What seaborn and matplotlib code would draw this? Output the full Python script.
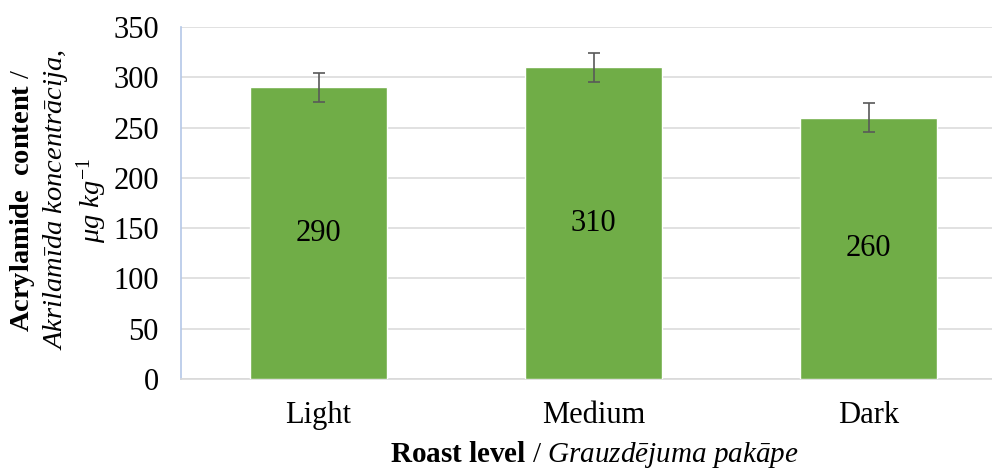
import matplotlib
matplotlib.use("Agg")
import matplotlib.pyplot as plt
import seaborn as sns
import pandas as pd

# Data
roast_levels = ["Light", "Medium", "Dark"]
acrylamide = [290, 310, 260]
acrylamide_err = [14.5, 14.5, 14.5]

df = pd.DataFrame({"roast": roast_levels, "acrylamide": acrylamide})

sns.set_theme(style="white", rc={"text.color": "black", "axes.labelcolor": "black",
                                 "xtick.color": "black", "ytick.color": "black"})
plt.rcParams["font.family"] = ["Liberation Serif", "DejaVu Serif"]
plt.rcParams["mathtext.fontset"] = "custom"
plt.rcParams["mathtext.rm"] = "Liberation Serif"
plt.rcParams["mathtext.it"] = "Liberation Serif:italic"
plt.rcParams["mathtext.bf"] = "Liberation Serif:bold"

FS = 22

fig = plt.figure(figsize=(9.92, 4.69), dpi=100)
# axes extends past the right edge like the cropped original
ax = fig.add_axes([181 / 992, 1 - 379 / 469, 825 / 992, 352 / 469])

sns.barplot(data=df, x="roast", y="acrylamide", color="#70ad47",
            width=0.5, saturation=1, ax=ax, zorder=3)
ax.errorbar(range(len(roast_levels)), acrylamide, yerr=acrylamide_err,
            fmt="none", ecolor="#595959", elinewidth=1.2, capsize=4.5,
            capthick=1.2, zorder=4)

ax.bar_label(ax.containers[0], labels=[str(v) for v in acrylamide],
             label_type="center", fontsize=FS, color="black")

ax.set_ylim(0, 350)
ax.set_yticks(range(0, 351, 50))
ax.set_xlim(-0.5, 2.5)
ax.yaxis.grid(True, color="#d9d9d9", linewidth=1.1, zorder=0)
ax.tick_params(axis="both", length=0, labelsize=FS, pad=16)

for side in ["top", "right"]:
    ax.spines[side].set_visible(False)
ax.spines["left"].set_color("#b4c7e7")
ax.spines["left"].set_linewidth(1.2)
ax.spines["bottom"].set_color("#d9d9d9")
ax.spines["bottom"].set_linewidth(1.2)

ax.set_xlabel("")
ax.set_ylabel("")
fig.text(594 / 992, 1 - 462 / 469,
         r"$\mathbf{Roast\ level}$ / $\mathit{Grauzdējuma\ pakāpe}$",
         fontsize=21, ha="center", va="baseline")

# three-line y label with mixed bold / italic
ylab_lines = [
    (23 / 992, r"$\mathbf{Acrylamide\ \ content}$ /"),
    (55 / 992, r"$\mathit{Akrilamīda\ koncentrācija,}$"),
    (92 / 992, r"$\mathit{μg\ kg^{-1}}$"),
]
for xpos, txt in ylab_lines:
    fig.text(xpos, 1 - 200 / 469, txt, rotation=90, fontsize=20.5,
             ha="center", va="center")

fig.savefig("out.png", dpi=100)
